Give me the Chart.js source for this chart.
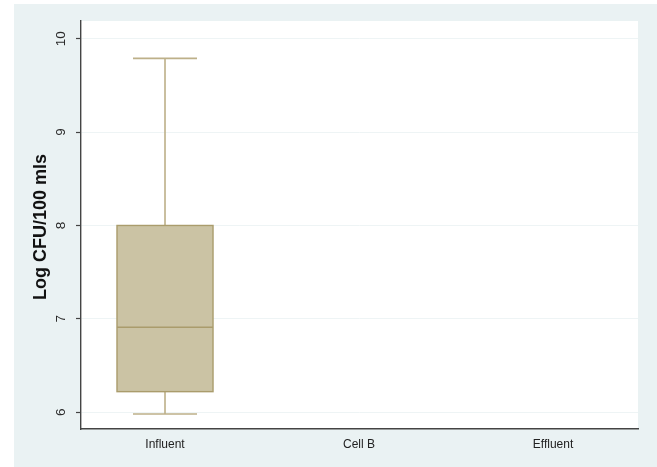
<!DOCTYPE html>
<html>
<head>
<meta charset="utf-8">
<script src="https://cdn.jsdelivr.net/npm/chart.js@4.4.1/dist/chart.umd.min.js"></script>
<style>
  html, body { margin: 0; padding: 0; background: #ffffff; }
  #wrap { width: 657px; height: 467px; }
</style>
</head>
<body>
<div id="wrap"><canvas id="c" width="657" height="467"></canvas></div>
<script>
// Sampling sites and their box-plot summaries (Log CFU/100 mls)
const categories = ['Influent', 'Cell B', 'Effluent'];
const whiskerLow  = [5.98, null, null];
const quartile1   = [6.22, null, null];
const medians     = [6.91, null, null];
const quartile3   = [8.00, null, null];
const whiskerHigh = [9.79, null, null];
const yTicks = [6, 7, 8, 9, 10];
const yTitle = 'Log CFU/100 mls';

const BOX_HALF = 0.2475;   // half box width, in category units
const CAP_HALF = 0.165;    // half whisker-cap width

const boxPlot = {
  id: 'boxPlot',
  beforeDraw(chart) {
    const ctx = chart.ctx;
    ctx.save();
    ctx.fillStyle = '#ffffff';
    ctx.fillRect(0, 0, chart.width, chart.height);
    ctx.fillStyle = '#eaf2f3';
    ctx.fillRect(14, 4, chart.width - 14, chart.height - 4);
    const a = chart.chartArea;
    ctx.fillStyle = '#ffffff';
    ctx.fillRect(a.left, a.top, a.right - a.left, a.bottom - a.top);
    ctx.restore();
  },
  afterDatasetsDraw(chart) {
    const ctx = chart.ctx;
    const xs = chart.scales.x, ys = chart.scales.y;
    ctx.save();
    categories.forEach((name, i) => {
      if (medians[i] == null) return;
      const cx = xs.getPixelForValue(i + 1);
      const bl = xs.getPixelForValue(i + 1 - BOX_HALF);
      const br = xs.getPixelForValue(i + 1 + BOX_HALF);
      const cl = xs.getPixelForValue(i + 1 - CAP_HALF);
      const cr = xs.getPixelForValue(i + 1 + CAP_HALF);
      const yLo = ys.getPixelForValue(whiskerLow[i]);
      const yQ1 = ys.getPixelForValue(quartile1[i]);
      const yMd = ys.getPixelForValue(medians[i]);
      const yQ3 = ys.getPixelForValue(quartile3[i]);
      const yHi = ys.getPixelForValue(whiskerHigh[i]);

      // whiskers and caps
      ctx.strokeStyle = '#bdb089';
      ctx.lineWidth = 1.6;
      ctx.beginPath();
      ctx.moveTo(cx, yQ3); ctx.lineTo(cx, yHi);
      ctx.moveTo(cx, yQ1); ctx.lineTo(cx, yLo);
      ctx.moveTo(cl, yHi); ctx.lineTo(cr, yHi);
      ctx.moveTo(cl, yLo); ctx.lineTo(cr, yLo);
      ctx.stroke();

      // box
      ctx.fillStyle = '#cbc3a4';
      ctx.fillRect(bl, yQ3, br - bl, yQ1 - yQ3);
      ctx.strokeStyle = '#aa9c6c';
      ctx.lineWidth = 1.4;
      ctx.strokeRect(bl, yQ3, br - bl, yQ1 - yQ3);

      // median
      ctx.beginPath();
      ctx.moveTo(bl, yMd); ctx.lineTo(br, yMd);
      ctx.stroke();
    });

    // vertical y tick labels
    ctx.fillStyle = '#2a2a2a';
    ctx.font = '13.5px "Liberation Sans", Arial, sans-serif';
    ctx.textAlign = 'center';
    ctx.textBaseline = 'middle';
    yTicks.forEach(v => {
      const py = ys.getPixelForValue(v);
      ctx.save();
      ctx.translate(61, py);
      ctx.rotate(-Math.PI / 2);
      ctx.fillText(String(v), 0, 0);
      ctx.restore();
    });

    // y axis title
    ctx.fillStyle = '#111111';
    ctx.font = 'bold 18px "Liberation Sans", Arial, sans-serif';
    ctx.save();
    ctx.translate(41, (ys.top + ys.bottom) / 2 + 2);
    ctx.rotate(-Math.PI / 2);
    ctx.fillText(yTitle, 0, 0);
    ctx.restore();
    ctx.restore();
  }
};

new Chart(document.getElementById('c'), {
  type: 'scatter',
  data: { datasets: [{ data: [], showLine: false }] },
  plugins: [boxPlot],
  options: {
    responsive: false,
    animation: false,
    events: [],
    layout: { padding: { left: 14, top: 21, right: 19, bottom: 0 } },
    plugins: { legend: { display: false }, tooltip: { enabled: false } },
    scales: {
      x: {
        type: 'linear',
        min: 0.567,
        max: 3.438,
        afterBuildTicks(s) { s.ticks = categories.map((c, i) => ({ value: i + 1 })); },
        afterFit(s) { s.height = 38; },
        grid: { display: false, drawTicks: false },
        border: { display: true, color: '#444444', width: 1.6 },
        ticks: {
          padding: 8,
          color: '#222222',
          font: { family: '"Liberation Sans", Arial, sans-serif', size: 12 },
          callback: (v) => categories[Math.round(v) - 1] || ''
        }
      },
      y: {
        min: 5.82,
        max: 10.19,
        afterBuildTicks(s) { s.ticks = yTicks.map(v => ({ value: v })); },
        afterFit(s) { s.width = 67; },
        grid: { color: '#eef4f5', lineWidth: 1, tickLength: 5, tickColor: '#444444', tickWidth: 1.2 },
        border: { display: true, color: '#444444', width: 1.4 },
        ticks: { display: false },
        title: { display: false }
      }
    }
  }
});
</script>
</body>
</html>
